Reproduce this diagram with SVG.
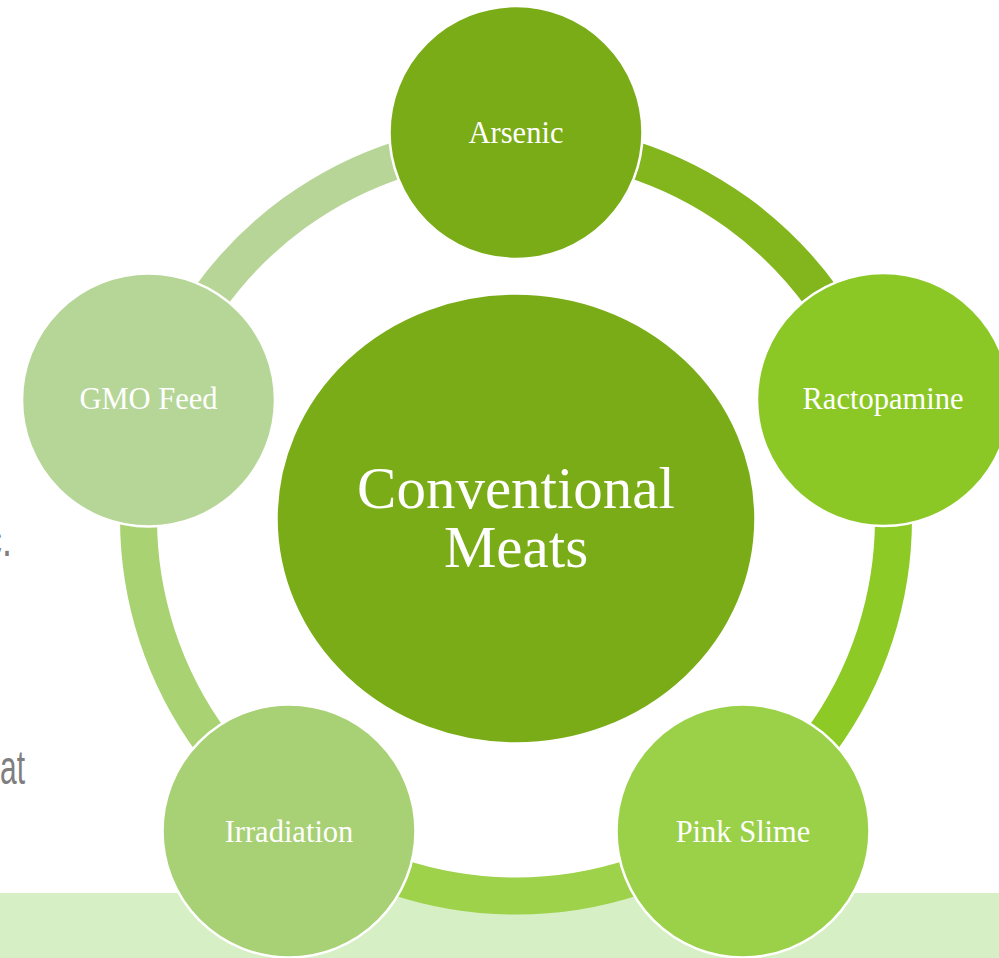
<svg xmlns="http://www.w3.org/2000/svg" width="999" height="958" viewBox="0 0 999 958">
  <style>
    .lbl { font-family: "Liberation Serif", "DejaVu Serif", serif; fill: #ffffff; text-anchor: middle; font-size: 30.5px; }
    .ctr { font-family: "Liberation Serif", "DejaVu Serif", serif; fill: #ffffff; text-anchor: middle; font-size: 59px; }
    .bg { font-family: "Liberation Sans", Arial, sans-serif; fill: #7f7f7f; font-size: 49px; }
    .arc { fill: none; stroke-width: 37; stroke-linecap: butt; }
    .node { stroke: #ffffff; stroke-width: 2.5; }
  </style>
  <rect x="0" y="0" width="999" height="958" fill="#ffffff"/>
  <rect x="0" y="893" width="999" height="65" fill="#d7efc4"/>
  <text class="bg" x="-16" y="556" textLength="28" lengthAdjust="spacingAndGlyphs">c.</text>
  <text class="bg" x="0" y="784" textLength="25" lengthAdjust="spacingAndGlyphs">at</text>

  <g id="connectors">
    <path class="arc" stroke="#83b51c" d="M 516 141 A 377.5 377.5 0 0 1 875.0 401.8"/>
    <path class="arc" stroke="#8dca25" d="M 875.0 401.8 A 377.5 377.5 0 0 1 737.9 823.9"/>
    <path class="arc" stroke="#9dd24a" d="M 737.9 823.9 A 377.5 377.5 0 0 1 294.1 823.9"/>
    <path class="arc" stroke="#a9d273" d="M 294.1 823.9 A 377.5 377.5 0 0 1 157.0 401.8"/>
    <path class="arc" stroke="#b6d597" d="M 157.0 401.8 A 377.5 377.5 0 0 1 516 141"/>
  </g>

  <g id="node-arsenic">
    <circle class="node" cx="516" cy="132.5" r="126.5" fill="#7aac18"/>
    <text class="lbl" x="516" y="143">Arsenic</text>
  </g>
  <g id="node-ractopamine">
    <circle class="node" cx="883.5" cy="399.5" r="126.5" fill="#8bc826"/>
    <text class="lbl" x="883" y="409">Ractopamine</text>
  </g>
  <g id="node-pink-slime">
    <circle class="node" cx="743" cy="831" r="126.5" fill="#9bd149"/>
    <text class="lbl" x="743" y="842">Pink Slime</text>
  </g>
  <g id="node-irradiation">
    <circle class="node" cx="289" cy="831" r="126.5" fill="#a8d074"/>
    <text class="lbl" x="289" y="842">Irradiation</text>
  </g>
  <g id="node-gmo-feed">
    <circle class="node" cx="148.5" cy="400" r="126.5" fill="#b6d698"/>
    <text class="lbl" x="148.5" y="409">GMO Feed</text>
  </g>
  <g id="node-center">
    <ellipse class="node" cx="516" cy="518.5" rx="239.5" ry="225" fill="#7aac18"/>
    <text class="ctr"><tspan x="516" y="508">Conventional</tspan><tspan x="516" y="567">Meats</tspan></text>
  </g>
</svg>
